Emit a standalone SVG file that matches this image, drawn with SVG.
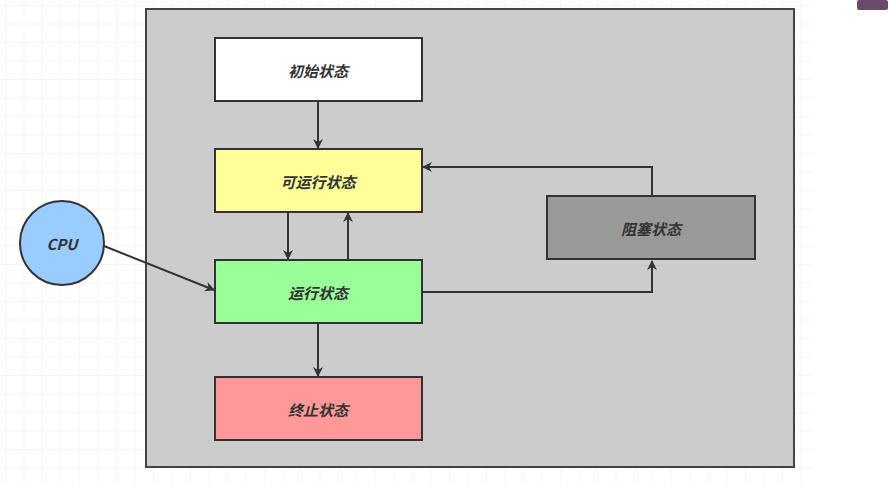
<svg xmlns="http://www.w3.org/2000/svg" width="888" height="484" viewBox="0 0 888 484">
<defs>
<pattern id="g" width="18.5" height="18.5" patternUnits="userSpaceOnUse" x="5" y="5"><path d="M0 0H18.5M0 0V18.5" stroke="#ebebeb" stroke-width="1" fill="none"/></pattern>
<marker id="a" markerWidth="10" markerHeight="10" refX="9" refY="5" orient="auto" markerUnits="userSpaceOnUse"><path d="M0 0L10 5L0 10L3 5Z" fill="#333"/></marker>
</defs>
<style>
.n{stroke:#333;stroke-width:2}
.t{font-family:"Noto Sans CJK SC","Liberation Sans",sans-serif;font-size:15px;font-weight:bold;font-style:italic;fill:#333;text-anchor:middle;dominant-baseline:central}
.c{fill:none;stroke:#333;stroke-width:2;marker-end:url(#a)}
</style>
<rect width="888" height="484" fill="#fff"/>
<rect x="0" y="0" width="812" height="484" fill="url(#g)"/>
<rect x="857" y="0" width="31" height="10" rx="2" fill="#6b4a6b"/>
<rect id="container" x="146" y="9" width="648" height="458" fill="#cccccc" stroke="#444" stroke-width="2"/>
<g id="n-init"><rect class="n" x="215" y="38" width="207" height="63" fill="#fff"/><text class="t" x="318" y="70">初始状态</text></g>
<g id="n-runnable"><rect class="n" x="215" y="149" width="207" height="63" fill="#ffff99"/><text class="t" x="318" y="181">可运行状态</text></g>
<g id="n-running"><rect class="n" x="215" y="260" width="207" height="63" fill="#99ff99"/><text class="t" x="318" y="292">运行状态</text></g>
<g id="n-term"><rect class="n" x="215" y="377" width="207" height="63" fill="#ff9999"/><text class="t" x="318" y="409">终止状态</text></g>
<g id="n-block"><rect class="n" x="547" y="196" width="208" height="63" fill="#999999"/><text class="t" x="651" y="228">阻塞状态</text></g>
<g id="n-cpu"><circle class="n" cx="62" cy="243" r="42" fill="#99ccff"/><text class="t" x="62" y="243">CPU</text></g>
<g id="connectors">
<path class="c" d="M318 101V148"/>
<path class="c" d="M288 212V259"/>
<path class="c" d="M348 260V213"/>
<path class="c" d="M318 323V376"/>
<path class="c" d="M104 246L214 290"/>
<path class="c" d="M422 292H652V261"/>
<path class="c" d="M652 196V167H423"/>
</g>
</svg>
